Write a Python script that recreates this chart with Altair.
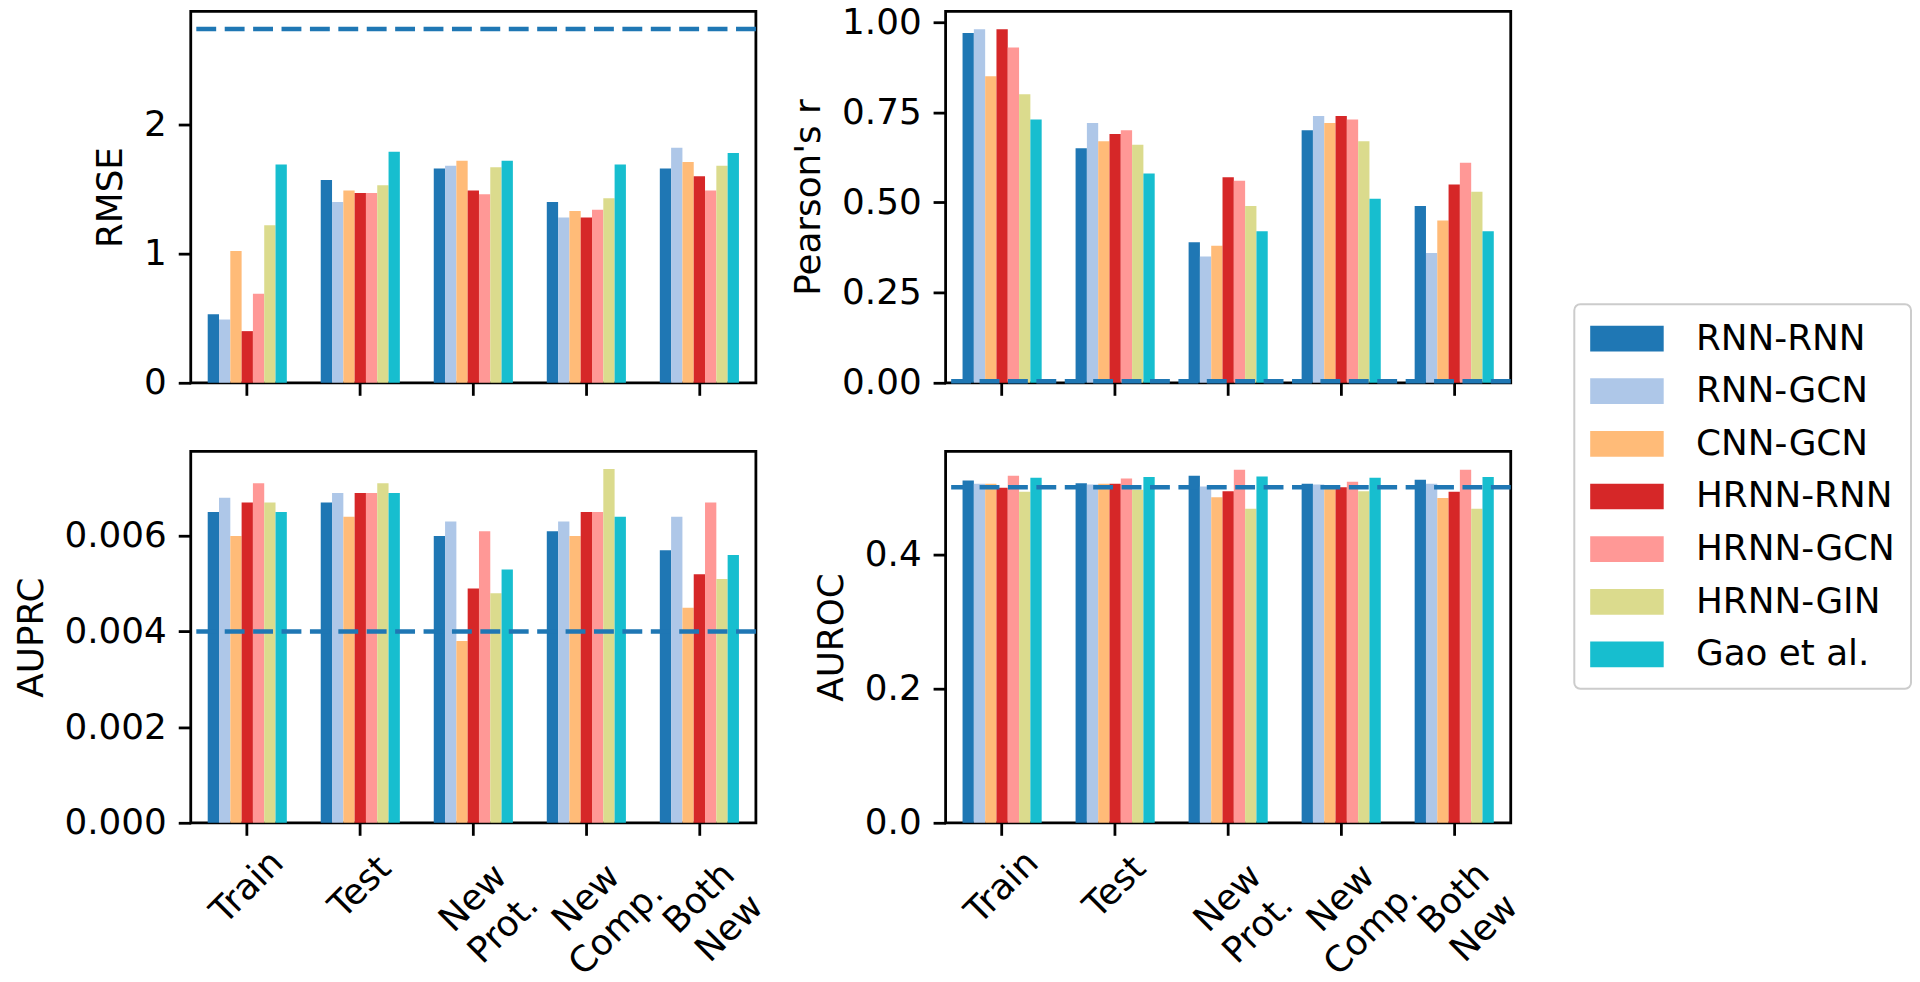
import altair as alt
import pandas as pd

categories = ["Train", "Test", "New Prot.", "New Comp.", "Both New"]
models = ["RNN-RNN", "RNN-GCN", "CNN-GCN", "HRNN-RNN", "HRNN-GCN", "HRNN-GIN", "Gao et al."]
colors = ["#1f77b4", "#aec7e8", "#ffbb78", "#d62728", "#ff9896", "#dbdb8d", "#17becf"]

# values per model (rows follow `models`), columns follow `categories`
rmse = [
    [0.53, 1.57, 1.66, 1.40, 1.66],
    [0.49, 1.40, 1.68, 1.28, 1.82],
    [1.02, 1.49, 1.72, 1.33, 1.71],
    [0.40, 1.47, 1.49, 1.28, 1.60],
    [0.69, 1.47, 1.46, 1.34, 1.49],
    [1.22, 1.53, 1.67, 1.43, 1.68],
    [1.69, 1.79, 1.72, 1.69, 1.78],
]
pearson = [
    [0.97, 0.65, 0.39, 0.70, 0.49],
    [0.98, 0.72, 0.35, 0.74, 0.36],
    [0.85, 0.67, 0.38, 0.72, 0.45],
    [0.98, 0.69, 0.57, 0.74, 0.55],
    [0.93, 0.70, 0.56, 0.73, 0.61],
    [0.80, 0.66, 0.49, 0.67, 0.53],
    [0.73, 0.58, 0.42, 0.51, 0.42],
]
auprc = [
    [0.0065, 0.0067, 0.0060, 0.0061, 0.0057],
    [0.0068, 0.0069, 0.0063, 0.0063, 0.0064],
    [0.0060, 0.0064, 0.0038, 0.0060, 0.0045],
    [0.0067, 0.0069, 0.0049, 0.0065, 0.0052],
    [0.0071, 0.0069, 0.0061, 0.0065, 0.0067],
    [0.0067, 0.0071, 0.0048, 0.0074, 0.0051],
    [0.0065, 0.0069, 0.0053, 0.0064, 0.0056],
]
auroc = [
    [0.510, 0.506, 0.517, 0.505, 0.511],
    [0.505, 0.504, 0.501, 0.504, 0.505],
    [0.505, 0.505, 0.485, 0.500, 0.484],
    [0.499, 0.505, 0.494, 0.500, 0.493],
    [0.517, 0.513, 0.526, 0.508, 0.526],
    [0.493, 0.496, 0.468, 0.494, 0.468],
    [0.514, 0.515, 0.516, 0.514, 0.515],
]

baselines = {"RMSE": 2.74, "Pearson's r": 0.004, "AUPRC": 0.004, "AUROC": 0.5}
y_domains = {"RMSE": [0, 2.877], "Pearson's r": [0, 1.03], "AUPRC": [0, 0.00777], "AUROC": [0, 0.5534]}
y_ticks = {"RMSE": [0, 1, 2], "Pearson's r": [0, 0.25, 0.5, 0.75, 1.0],
           "AUPRC": [0, 0.002, 0.004, 0.006], "AUROC": [0, 0.2, 0.4]}
y_formats = {"RMSE": "d", "Pearson's r": ".2f", "AUPRC": ".3f", "AUROC": ".1f"}

FONT = "DejaVu Sans"
FS = 36
PW, PH = 569, 374


def long_df(values):
    rows = []
    for mi, m in enumerate(models):
        for ci, c in enumerate(categories):
            rows.append({"category": c, "model": m, "value": values[mi][ci]})
    return pd.DataFrame(rows)


def panel(values, name, bottom):
    df = long_df(values)
    if bottom:
        xaxis = alt.Axis(
            title=None, labelAngle=-45, labelAlign="center", labelBaseline="middle",
            labelExpr="split(datum.label, ' ')", labelLineHeight=43,
            labelPadding=alt.condition("indexof(datum.value, ' ') >= 0", alt.value(63), alt.value(52)),
            ticks=True, domain=False,
        )
    else:
        xaxis = alt.Axis(title=None, labels=False, ticks=True, domain=False)
    bars = alt.Chart(df).mark_bar().encode(
        x=alt.X("category:N", sort=categories,
                scale=alt.Scale(paddingInner=0.3, paddingOuter=0.15), axis=xaxis),
        xOffset=alt.XOffset("model:N", sort=models,
                            scale=alt.Scale(paddingInner=0, paddingOuter=0)),
        y=alt.Y("value:Q",
                scale=alt.Scale(domain=y_domains[name], nice=False, zero=True),
                axis=alt.Axis(title=name, values=y_ticks[name], format=y_formats[name],
                              domain=False)),
        color=alt.Color("model:N", sort=models,
                        scale=alt.Scale(domain=models, range=colors),
                        legend=alt.Legend(
                            title=None, orient="none", legendX=1393, legendY=295,
                            direction="vertical",
                            symbolType="M-2,-0.7H2V0.7H-2Z", symbolSize=1369,
                            symbolStrokeWidth=0, symbolOffset=18.5,
                            labelOffset=51, rowPadding=16, padding=16,
                            strokeColor="#cccccc", cornerRadius=6,
                            fillColor="white", labelFontSize=FS, labelFont=FONT,
                            labelColor="black", labelLimit=400,
                        )),
    )
    rule = alt.Chart(pd.DataFrame({"value": [baselines[name]]})).mark_rule(
        color="#1f77b4", strokeDash=[20, 8.6], strokeWidth=4.5
    ).encode(y="value:Q")
    return alt.layer(bars, rule).properties(width=PW, height=PH)


p1 = panel(rmse, "RMSE", False)
p2 = panel(pearson, "Pearson's r", False)
p3 = panel(auprc, "AUPRC", True)
p4 = panel(auroc, "AUROC", True)

chart = alt.concat(p1, p2, p3, p4, columns=2, spacing={"row": 47, "column": 16}).resolve_scale(
    y="independent", x="independent", xOffset="independent", color="shared"
).resolve_legend(color="shared").properties(
    padding={"left": 3, "top": -9, "right": 0, "bottom": 0}
).configure_view(
    stroke="black", strokeWidth=2.8
).configure_axis(
    labelFont=FONT, titleFont=FONT, labelFontSize=FS, titleFontSize=FS,
    titleFontWeight="normal", labelColor="black", titleColor="black",
    tickColor="black", tickWidth=2.8, tickSize=12.6, labelPadding=12,
    titlePadding=14, grid=False,
).configure_legend(strokeWidth=2)

chart.save("out.html", embed_options={"renderer": "svg", "actions": False})
